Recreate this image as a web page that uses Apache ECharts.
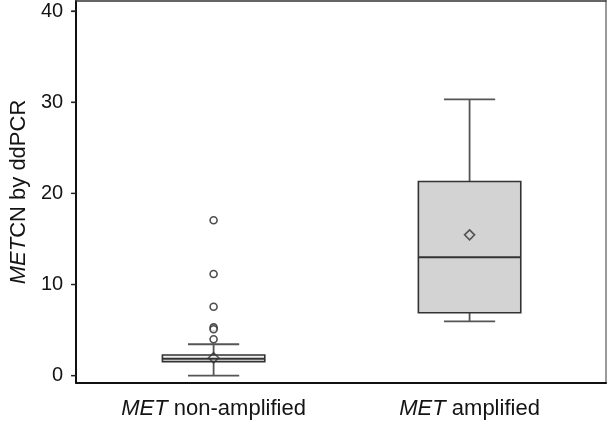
<!DOCTYPE html>
<html>
<head>
<meta charset="utf-8">
<style>html,body{margin:0;padding:0;background:#fff}#c{width:609px;height:424px}</style>
<script src="https://cdn.jsdelivr.net/npm/echarts@6/dist/echarts.min.js"></script>
</head>
<body>
<div id="c"></div>
<script>
// ---- data ----
const categories = ['MET non-amplified', 'MET amplified'];
const lowWhisker = [0.0, 5.95];
const q1Values = [1.54, 6.9];
const medians = [1.86, 13.0];
const q3Values = [2.27, 21.3];
const highWhisker = [3.45, 30.3];
const means = [1.97, 15.45];
const outlierCats = [0, 0, 0, 0, 0, 0];
const outlierValues = [17.05, 11.15, 7.57, 5.3, 5.1, 4.0];
const yTicks = [0, 10, 20, 30, 40];

const boxFills = ['#f0f0f0', '#d3d3d3'];
const FONT = 'Liberation Sans, Arial, sans-serif';
const TXT = '#141414';
const X_MIN = -0.537, X_MAX = 1.533, Y_MIN = -0.8, Y_MAX = 41.1;

const catIdx = categories.map((c, i) => i);
const boxData = categories.map((c, i) => [i, lowWhisker[i], q1Values[i], medians[i], q3Values[i], highWhisker[i]]);
const meanData = categories.map((c, i) => [i, means[i]]);
const outlierData = outlierValues.map((v, i) => [outlierCats[i], v]);

function italicMET(s) { return s.replace('MET', '{i|MET}'); }

function lineOnlyAxis(pos, color, width, isX) {
  return {type: 'value', min: isX ? X_MIN : Y_MIN, max: isX ? X_MAX : Y_MAX, position: pos,
    axisLine: {show: true, onZero: false, lineStyle: {color: color, width: width}},
    axisTick: {show: false}, axisLabel: {show: false}, splitLine: {show: false}};
}

const chart = echarts.init(document.getElementById('c'), null, {renderer: 'canvas'});
chart.setOption({
  animation: false,
  backgroundColor: '#fff',
  grid: {left: 74, right: 3, top: 1, bottom: 41},
  xAxis: [
    {type: 'value', min: X_MIN, max: X_MAX, position: 'bottom',
     axisLine: {show: true, onZero: false, lineStyle: {color: '#111', width: 2}},
     axisTick: {show: false}, splitLine: {show: false},
     axisLabel: {customValues: catIdx, margin: 15, fontSize: 22, fontFamily: FONT, color: TXT,
       formatter: v => italicMET(categories[Math.round(v)] || ''),
       rich: {i: {fontStyle: 'italic', fontSize: 22, fontFamily: FONT, color: TXT}}}},
    lineOnlyAxis('top', '#333', 1.5, true)
  ],
  yAxis: [
    {type: 'value', min: Y_MIN, max: Y_MAX, position: 'left',
     axisLine: {show: true, onZero: false, lineStyle: {color: '#111', width: 2}},
     axisTick: {show: true, customValues: yTicks, length: 5, lineStyle: {color: '#222', width: 1.2}},
     splitLine: {show: false},
     axisLabel: {customValues: yTicks, margin: 13, fontSize: 20, fontFamily: FONT, color: TXT},
     name: '{i|MET}CN by ddPCR', nameLocation: 'middle', nameGap: 45, nameRotate: 90,
     nameTextStyle: {fontSize: 22, fontFamily: FONT, color: TXT,
       rich: {i: {fontStyle: 'italic', fontSize: 22, fontFamily: FONT, color: TXT}}}},
    lineOnlyAxis('right', '#9a9a9a', 2, false)
  ],
  series: [
    {
      type: 'custom', xAxisIndex: 0, yAxisIndex: 0, data: boxData,
      encode: {x: 0, y: [1, 2, 3, 4, 5]},
      renderItem: function (params, api) {
        const cat = api.value(0);
        const lo = api.coord([cat, api.value(1)]);
        const q1 = api.coord([cat, api.value(2)]);
        const md = api.coord([cat, api.value(3)]);
        const q3 = api.coord([cat, api.value(4)]);
        const hi = api.coord([cat, api.value(5)]);
        const band = api.size([1, 0])[0];
        const bw = band * 0.4;
        const cw = band * 0.2;
        const cx = lo[0];
        const wStyle = {stroke: '#555', lineWidth: 1.8, fill: null};
        const bStyle = {stroke: '#333', lineWidth: 1.6, fill: boxFills[params.dataIndex]};
        return {type: 'group', children: [
          {type: 'line', shape: {x1: cx, y1: hi[1], x2: cx, y2: q3[1]}, style: wStyle},
          {type: 'line', shape: {x1: cx, y1: q1[1], x2: cx, y2: lo[1]}, style: wStyle},
          {type: 'line', shape: {x1: cx - cw / 2, y1: hi[1], x2: cx + cw / 2, y2: hi[1]}, style: wStyle},
          {type: 'line', shape: {x1: cx - cw / 2, y1: lo[1], x2: cx + cw / 2, y2: lo[1]}, style: wStyle},
          {type: 'rect', shape: {x: cx - bw / 2, y: q3[1], width: bw, height: q1[1] - q3[1]}, style: bStyle},
          {type: 'line', shape: {x1: cx - bw / 2, y1: md[1], x2: cx + bw / 2, y2: md[1]}, style: {stroke: '#333', lineWidth: 2}}
        ]};
      },
      z: 2
    },
    {
      type: 'scatter', xAxisIndex: 0, yAxisIndex: 0, data: meanData,
      symbol: 'diamond', symbolSize: 10,
      itemStyle: {color: 'rgba(255,255,255,0)', borderColor: '#333', borderWidth: 1.6},
      z: 4
    },
    {
      type: 'scatter', xAxisIndex: 0, yAxisIndex: 0, data: outlierData,
      symbol: 'circle', symbolSize: 7,
      itemStyle: {color: '#fff', borderColor: '#222', borderWidth: 1.6},
      z: 4
    }
  ]
});

// y-axis tick marks, placed through the chart's own y scale
const axisX = chart.convertToPixel({xAxisIndex: 0}, X_MIN);
chart.setOption({
  graphic: yTicks.map(v => {
    const py = chart.convertToPixel({yAxisIndex: 0}, v);
    return {type: 'line', silent: true, z: 10,
      shape: {x1: axisX - 5, y1: py, x2: axisX, y2: py},
      style: {stroke: '#222', lineWidth: 1.3}};
  })
});
</script>
</body>
</html>
